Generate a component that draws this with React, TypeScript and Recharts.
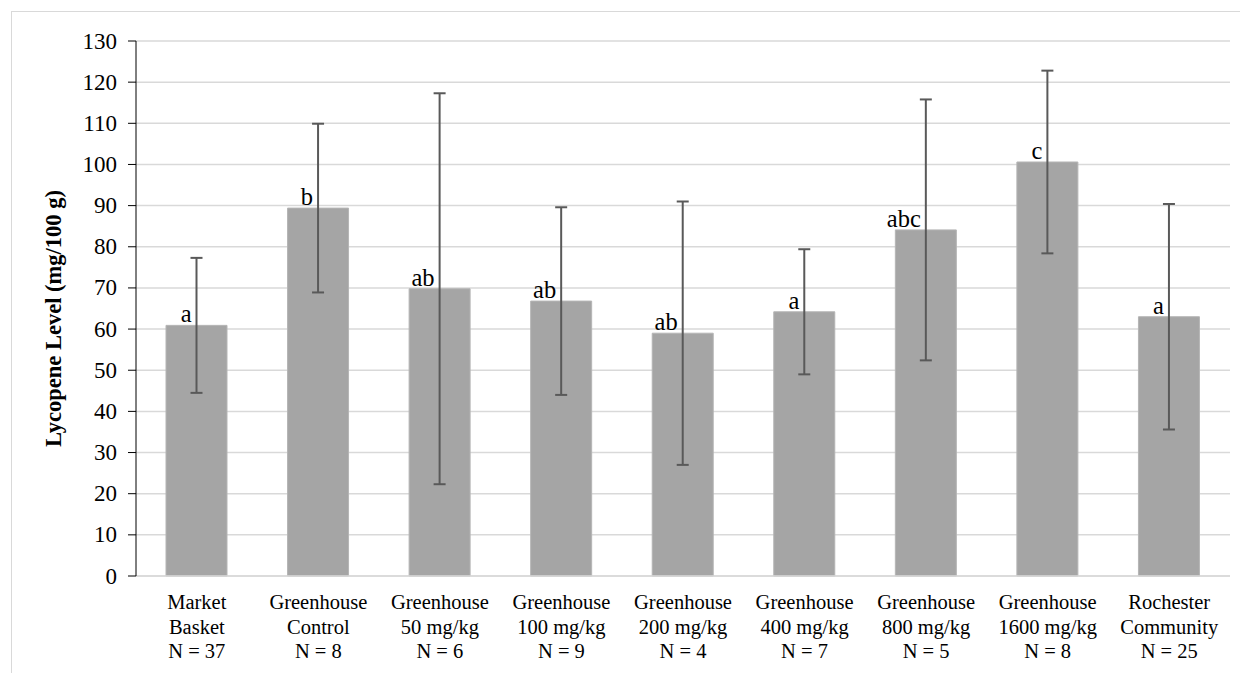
import { BarChart, Bar, XAxis, YAxis, CartesianGrid, ErrorBar, LabelList, Label } from "recharts";

const groupLine1 = ["Market", "Greenhouse", "Greenhouse", "Greenhouse", "Greenhouse", "Greenhouse", "Greenhouse", "Greenhouse", "Rochester"];
const groupLine2 = ["Basket", "Control", "50 mg/kg", "100 mg/kg", "200 mg/kg", "400 mg/kg", "800 mg/kg", "1600 mg/kg", "Community"];
const sampleSizes = [37, 8, 6, 9, 4, 7, 5, 8, 25];
const lycopene = [60.9, 89.4, 69.8, 66.8, 59.0, 64.2, 84.1, 100.6, 63.0];
const stdDev = [16.4, 20.5, 47.5, 22.8, 32.0, 15.2, 31.7, 22.2, 27.4];
const letters = ["a", "b", "ab", "ab", "ab", "a", "abc", "c", "a"];
const yTicks = [0, 10, 20, 30, 40, 50, 60, 70, 80, 90, 100, 110, 120, 130];

const data = lycopene.map((v, i) => ({
  key: String(i),
  value: v,
  sd: stdDev[i],
  letter: letters[i],
}));

const FONT = "Liberation Serif, Times New Roman, serif";

function CategoryTick(props: any) {
  const { x, y, payload } = props;
  const i = Number(payload.value);
  const lines = [groupLine1[i], groupLine2[i], `N = ${sampleSizes[i]}`];
  return (
    <text x={x} y={y} textAnchor="middle" style={{ fontFamily: FONT, fontSize: 20.5 }} fill="#000">
      {lines.map((t, k) => (
        <tspan key={k} x={x} y={y + 26 + k * 24.5} dominantBaseline="central">
          {t}
        </tspan>
      ))}
    </text>
  );
}

function ValueTick(props: any) {
  const { x, y, payload } = props;
  return (
    <text x={x} y={y} textAnchor="end" dominantBaseline="central" style={{ fontFamily: FONT, fontSize: 23 }} fill="#000">
      {payload.value}
    </text>
  );
}

function LetterLabel(props: any) {
  const { x, y, width, value } = props;
  return (
    <text x={x + width / 2 - 5} y={y - 3} textAnchor="end" style={{ fontFamily: FONT, fontSize: 24.5 }} fill="#000">
      {value}
    </text>
  );
}

export default function App() {
  return (
    <div style={{ position: "relative", width: 1240, height: 665, overflow: "hidden", background: "#fff", fontFamily: FONT }}>
      <div
        style={{
          position: "absolute",
          left: 3,
          top: 3,
          width: 1300,
          height: 700,
          border: "1.5px solid #d9d9d9",
        }}
      />
      <div style={{ position: "absolute", left: 0, top: 0 }}>
        <BarChart width={1240} height={665} data={data} margin={{ top: 33, right: 18, left: 0, bottom: 0 }}>
          <CartesianGrid vertical={false} stroke="#d9d9d9" strokeWidth={1.5} />
          <XAxis
            dataKey="key"
            height={97}
            tickLine={false}
            tickSize={0}
            tickMargin={0}
            axisLine={{ stroke: "#d9d9d9", strokeWidth: 1.5 }}
            tick={<CategoryTick />}
            interval={0}
          />
          <YAxis
            width={128}
            domain={[0, 130]}
            ticks={yTicks}
            interval={0}
            tickSize={8}
            tickMargin={11}
            axisLine={{ stroke: "#000", strokeWidth: 1 }}
            tickLine={{ stroke: "#000", strokeWidth: 1 }}
            tick={<ValueTick />}
          >
            <Label
              content={(p: any) => {
                const vb = p.viewBox || {};
                const cx = 45;
                const cy = (vb.y ?? 33) + (vb.height ?? 535) / 2 + 10;
                return (
                  <text
                    x={cx}
                    y={cy}
                    transform={`rotate(-90, ${cx}, ${cy})`}
                    textAnchor="middle"
                    dominantBaseline="central"
                    style={{ fontFamily: FONT, fontWeight: "bold", fontSize: 22.5 }}
                    fill="#000"
                  >
                    Lycopene Level (mg/100 g)
                  </text>
                );
              }}
            />
          </YAxis>
          <Bar dataKey="value" fill="#a5a5a5" stroke="#b5b5b5" strokeWidth={1} barSize={61} isAnimationActive={false}>
            <ErrorBar dataKey="sd" width={6} stroke="#595959" strokeWidth={2} direction="y" />
            <LabelList dataKey="letter" content={<LetterLabel />} />
          </Bar>
        </BarChart>
      </div>
    </div>
  );
}
